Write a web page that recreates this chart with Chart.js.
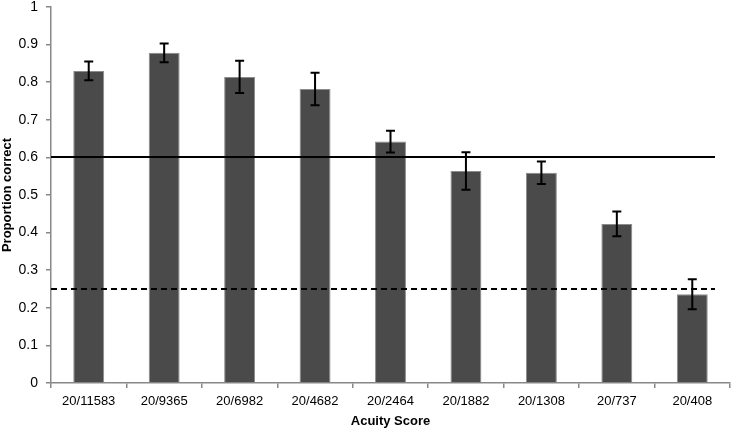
<!DOCTYPE html>
<html>
<head>
<meta charset="utf-8">
<script src="https://cdn.jsdelivr.net/npm/chart.js@4"></script>
<style>
  html, body { margin: 0; padding: 0; background: #fff; }
  #wrap { width: 734px; height: 432px; }
</style>
</head>
<body>
<div id="wrap"><canvas id="acuityChart" width="734" height="432"></canvas></div>
<script>
const acuityLabels = ['20/11583', '20/9365', '20/6982', '20/4682', '20/2464', '20/1882', '20/1308', '20/737', '20/408'];
const proportionCorrect = [0.83, 0.878, 0.814, 0.782, 0.642, 0.564, 0.559, 0.423, 0.236];
const errorHalfWidth = [0.025, 0.025, 0.043, 0.043, 0.029, 0.05, 0.03, 0.033, 0.04];
const thresholdLine = 0.6;   // сплошная линия
const chanceLine = 0.25;     // пунктир

// Планки погрешностей
const errorBarsPlugin = {
  id: 'errorBars',
  afterDatasetsDraw(chart) {
    const ctx = chart.ctx;
    const y = chart.scales.y;
    const meta = chart.getDatasetMeta(0);
    ctx.save();
    ctx.strokeStyle = '#000';
    ctx.lineWidth = 2;
    meta.data.forEach((bar, i) => {
      const top = y.getPixelForValue(proportionCorrect[i] + errorHalfWidth[i]);
      const bottom = y.getPixelForValue(proportionCorrect[i] - errorHalfWidth[i]);
      ctx.beginPath();
      ctx.moveTo(bar.x, top);
      ctx.lineTo(bar.x, bottom);
      ctx.moveTo(bar.x - 4.5, top);
      ctx.lineTo(bar.x + 4.5, top);
      ctx.moveTo(bar.x - 4.5, bottom);
      ctx.lineTo(bar.x + 4.5, bottom);
      ctx.stroke();
    });
    ctx.restore();
  }
};

// Горизонтальные линии 0.6 и 0.25
const refLinesPlugin = {
  id: 'refLines',
  afterDatasetsDraw(chart) {
    const ctx = chart.ctx;
    const y = chart.scales.y;
    const left = chart.chartArea.left;
    const right = chart.chartArea.right - 15;
    ctx.save();
    ctx.strokeStyle = '#000';
    ctx.lineWidth = 2;
    let py = Math.round(y.getPixelForValue(thresholdLine));
    ctx.beginPath();
    ctx.moveTo(left, py);
    ctx.lineTo(right, py);
    ctx.stroke();
    py = Math.round(y.getPixelForValue(chanceLine));
    ctx.setLineDash([6, 4]);
    ctx.beginPath();
    ctx.moveTo(left, py);
    ctx.lineTo(right, py);
    ctx.stroke();
    ctx.restore();
  }
};

Chart.defaults.font.family = '"Liberation Sans", Arial, sans-serif';
Chart.defaults.font.size = 13;
Chart.defaults.color = '#000';

new Chart(document.getElementById('acuityChart').getContext('2d'), {
  type: 'bar',
  data: {
    labels: acuityLabels,
    datasets: [{
      data: proportionCorrect,
      backgroundColor: '#4a4a4a',
      borderColor: '#8c8c8c',
      borderWidth: 1,
      categoryPercentage: 1,
      barPercentage: 0.41
    }]
  },
  options: {
    responsive: false,
    animation: false,
    layout: { padding: { top: 0, right: 4, left: 0, bottom: 0 } },
    plugins: {
      legend: { display: false },
      tooltip: { enabled: false }
    },
    scales: {
      x: {
        grid: { drawOnChartArea: false, drawTicks: true, tickLength: 5, color: '#888', lineWidth: 1.5 },
        border: { display: true, color: '#888', width: 1.5 },
        ticks: { padding: 6, maxRotation: 0, font: { size: 13 } },
        title: { display: true, text: 'Acuity Score', font: { size: 13, weight: 'bold' }, padding: { top: 0, bottom: 3 } },
        afterFit(scale) { scale.height = 49; }
      },
      y: {
        min: 0,
        max: 1,
        grid: { drawOnChartArea: false, drawTicks: true, tickLength: 5, color: '#888', lineWidth: 1.5 },
        border: { display: true, color: '#888', width: 1.5 },
        ticks: {
          stepSize: 0.1,
          padding: 8,
          font: { size: 14 },
          callback: v => String(Number(v.toFixed(1)))
        },
        title: { display: true, text: 'Proportion correct', font: { size: 13, weight: 'bold' }, padding: { top: 0, bottom: 0 } },
        afterFit(scale) { scale.width = 51; scale.paddingTop = 7; }
      }
    }
  },
  plugins: [refLinesPlugin, errorBarsPlugin]
});
</script>
</body>
</html>
